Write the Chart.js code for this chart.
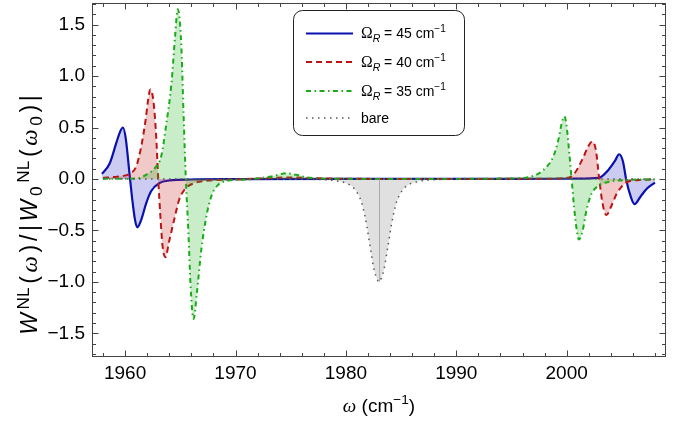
<!DOCTYPE html>
<html>
<head>
<meta charset="utf-8">
<script src="https://cdn.jsdelivr.net/npm/chart.js@4"></script>
<style>
  html, body { margin: 0; padding: 0; background: #fff; }
  canvas { display: block; }
</style>
</head>
<body>
<canvas id="chart" width="682" height="425"></canvas>
<script>
// tick labels
const xTicks = [1960, 1970, 1980, 1990, 2000];
const yTicks = [-1.5, -1.0, -0.5, 0, 0.5, 1.0, 1.5];

// Omega_R values for the legend
const omegaR = [45, 40, 35];

// Omega_R = 45
const blueX = [1957.9, 1958.6, 1959.2, 1959.55, 1959.8, 1960.05, 1960.4, 1960.65, 1960.9, 1961.1, 1961.45, 1961.9, 1962.35, 1963.1, 1964, 1966, 1970, 1980, 1995, 2001, 2002.9, 2003.8, 2004.4, 2004.75, 2005.1, 2005.4, 2005.8, 2006.15, 2006.7, 2007.3, 2008];
const blueY = [0.05, 0.15, 0.35, 0.46, 0.50, 0.40, 0.05, -0.20, -0.40, -0.47, -0.40, -0.24, -0.12, -0.04, -0.015, -0.005, -0.002, 0, 0.001, 0.003, 0.01, 0.09, 0.18, 0.24, 0.17, -0.01, -0.17, -0.245, -0.17, -0.09, -0.035];

// Omega_R = 40
const redX = [1958, 1959, 1959.8, 1960.4, 1961.0, 1961.45, 1961.85, 1962.1, 1962.27, 1962.55, 1962.8, 1963.0, 1963.2, 1963.4, 1963.65, 1964.0, 1964.5, 1964.9, 1965.5, 1966.4, 1967.6, 1970, 1973, 1975, 1977, 1980, 1990, 1997, 1999.7, 2000.6, 2001.4, 2001.95, 2002.3, 2002.65, 2002.95, 2003.25, 2003.6, 2004.1, 2004.55, 2005.4, 2006.6, 2008];
const redY = [0.01, 0.02, 0.03, 0.05, 0.12, 0.31, 0.57, 0.78, 0.87, 0.77, 0.44, 0, -0.37, -0.66, -0.76, -0.60, -0.37, -0.20, -0.09, -0.036, -0.016, -0.005, 0.008, 0.015, 0.008, 0.002, 0, 0.002, 0.007, 0.04, 0.185, 0.315, 0.364, 0.28, 0, -0.237, -0.35, -0.25, -0.14, -0.036, -0.01, -0.005];

// Omega_R = 35
const greenX = [1958, 1960, 1961, 1961.9, 1962.8, 1963.27, 1963.7, 1964.2, 1964.53, 1964.77, 1965.08, 1965.3, 1965.5, 1965.74, 1965.92, 1966.2, 1966.5, 1966.9, 1967.35, 1967.8, 1968.4, 1969.15, 1971, 1972.5, 1973.5, 1974.6, 1975.5, 1976.5, 1978, 1985, 1995, 1997, 1997.9, 1998.8, 1999.25, 1999.55, 1999.8, 2000.0, 2000.24, 2000.45, 2000.67, 2000.92, 2001.1, 2001.45, 2001.8, 2002.27, 2003.0, 2003.9, 2005.4, 2008];
const greenY = [0.002, 0.003, 0.005, 0.04, 0.12, 0.22, 0.51, 0.93, 1.39, 1.65, 1.32, 0.61, 0, -0.53, -1.02, -1.36, -1.11, -0.69, -0.37, -0.17, -0.06, -0.02, -0.005, 0.012, 0.03, 0.055, 0.04, 0.015, 0.003, 0, 0.005, 0.03, 0.088, 0.22, 0.38, 0.54, 0.607, 0.51, 0.25, 0, -0.27, -0.50, -0.588, -0.50, -0.30, -0.14, -0.06, -0.026, -0.01, -0.003];

// bare
const bareX = [1958, 1970, 1976, 1978, 1979, 1979.9, 1980.35, 1980.86, 1981.4, 1981.7, 1981.9, 1982.1, 1982.3, 1982.5, 1982.75, 1983, 1983.25, 1983.5, 1983.7, 1983.9, 1984.1, 1984.3, 1984.6, 1985.14, 1985.65, 1986.1, 1987, 1988, 1990, 1996, 2008];
const bareY = [0, -0.001, -0.003, -0.007, -0.016, -0.036, -0.058, -0.107, -0.22, -0.35, -0.46, -0.595, -0.724, -0.855, -0.952, -1.0, -0.952, -0.855, -0.724, -0.595, -0.46, -0.35, -0.22, -0.107, -0.058, -0.036, -0.016, -0.007, -0.003, -0.001, 0];

const pts = (xs, ys) => xs.map((x, i) => ({ x, y: ys[i] }));

const SANS = '"Liberation Sans", Arial, sans-serif';
const SERIF = '"Liberation Serif", "Times New Roman", serif';

// rich text: parts {t, it, serif, s (scale), dy (em shift)}
function partFont(p, size) {
  return (p.it ? 'italic ' : '') + (size * (p.s || 1)) + 'px ' + (p.serif ? SERIF : SANS);
}
function drawRich(ctx, parts, x, y, size, align, gap) {
  gap = gap || 0;
  let w = 0;
  parts.forEach((p, i) => {
    ctx.font = partFont(p, size);
    p.w = ctx.measureText(p.t).width + (i < parts.length - 1 ? gap * size : 0);
    w += p.w;
  });
  let cx = align === 'center' ? x - w / 2 : x;
  ctx.textAlign = 'left';
  ctx.textBaseline = 'alphabetic';
  parts.forEach(p => {
    ctx.font = partFont(p, size);
    ctx.fillText(p.t, cx, y + (p.dy || 0) * size);
    cx += p.w;
  });
}
const sup = t => ({ t, s: 0.72, dy: -0.42 });

const legendRows = [
  { val: omegaR[0], ds: 0 },
  { val: omegaR[1], ds: 1 },
  { val: omegaR[2], ds: 2 },
  { label: 'bare', ds: 3 }
];

const framePlugin = {
  id: 'frame',
  afterDatasetsDraw(chart) {
    const { ctx, chartArea: a, scales: { x, y } } = chart;
    ctx.save();
    // seam line of the bare fill at its minimum
    const iMin = bareY.indexOf(Math.min(...bareY));
    const sx = Math.round(x.getPixelForValue(bareX[iMin])) + 0.5;
    ctx.strokeStyle = 'rgba(150,150,150,0.7)';
    ctx.lineWidth = 1;
    ctx.beginPath();
    ctx.moveTo(sx, y.getPixelForValue(0));
    ctx.lineTo(sx, y.getPixelForValue(bareY[iMin]));
    ctx.stroke();

    const L = Math.round(a.left) + 0.5, R = Math.round(a.right) - 0.5;
    const T = Math.round(a.top) + 0.5, B = Math.round(a.bottom) - 0.5;
    ctx.strokeStyle = '#444';
    ctx.strokeRect(L, T, R - L, B - T);
    ctx.beginPath();
    for (let v = 1958; v <= 2008; v += 2) {
      const px = Math.round(x.getPixelForValue(v)) + 0.5;
      const len = v % 10 === 0 ? 6 : 3.5;
      ctx.moveTo(px, B); ctx.lineTo(px, B - len);
      ctx.moveTo(px, T); ctx.lineTo(px, T + len);
    }
    for (let k = -17; k <= 17; k++) {
      const py = Math.round(y.getPixelForValue(k / 10)) + 0.5;
      const len = k % 5 === 0 ? 6 : 3.5;
      ctx.moveTo(L, py); ctx.lineTo(L + len, py);
      ctx.moveTo(R, py); ctx.lineTo(R - len, py);
    }
    ctx.stroke();
    ctx.restore();
  },
  afterDraw(chart) {
    const { ctx, chartArea: a } = chart;
    ctx.save();
    ctx.fillStyle = '#000';
    // x title
    drawRich(ctx, [
      { t: 'ω', it: true, serif: true },
      { t: ' (cm' }, sup('−1'), { t: ')' }
    ], (a.left + a.right) / 2, 412, 19, 'center');
    // y title
    ctx.save();
    ctx.translate(37, 215);
    ctx.rotate(-Math.PI / 2);
    drawRich(ctx, [
      { t: 'W', it: true }, { t: 'NL', s: 0.75, dy: -0.36 }, { t: '(' }, { t: 'ω', it: true, serif: true }, { t: ')' }, { t: '/' }, { t: '|' },
      { t: 'W', it: true }, { t: '0', s: 0.75, dy: 0.22 }, { t: 'NL', s: 0.75, dy: -0.36 }, { t: '(' }, { t: 'ω', it: true, serif: true },
      { t: '0', s: 0.75, dy: 0.22 }, { t: ')' }, { t: '|' }
    ], 0, 0, 23, 'center', 0.16);
    ctx.restore();

    // legend box
    const bx = 293.5, by = 10.5, bw = 171, bh = 125, r = 9;
    ctx.beginPath();
    ctx.roundRect(bx, by, bw, bh, r);
    ctx.fillStyle = '#fff';
    ctx.fill();
    ctx.strokeStyle = '#222';
    ctx.lineWidth = 1;
    ctx.stroke();
    const rowY = [33.5, 62, 91, 118];
    legendRows.forEach((row, i) => {
      const ds = chart.data.datasets[row.ds];
      const yy = rowY[i];
      ctx.save();
      ctx.strokeStyle = ds.borderColor;
      ctx.lineWidth = ds.borderWidth;
      ctx.setLineDash(ds.borderDash || []);
      ctx.beginPath();
      ctx.moveTo(306, yy); ctx.lineTo(353, yy);
      ctx.stroke();
      ctx.restore();
      ctx.fillStyle = '#000';
      if (row.val !== undefined) {
        drawRich(ctx, [
          { t: 'Ω', serif: true, s: 1.12 }, { t: 'R', it: true, s: 0.75, dy: 0.3 },
          { t: ' = ' + row.val + ' cm' }, sup('−1')
        ], 361, yy + 4.5, 14, 'left');
      } else {
        drawRich(ctx, [{ t: row.label }], 361, yy + 4.5, 14, 'left');
      }
    });
    ctx.restore();
  }
};

new Chart(document.getElementById('chart'), {
  type: 'line',
  data: {
    datasets: [
      {
        label: 'ΩR = 45 cm−1', data: pts(blueX, blueY), order: 4,
        borderColor: '#0a10b0', borderWidth: 2.2,
        backgroundColor: 'rgba(40,40,200,0.24)', fill: 'origin'
      },
      {
        label: 'ΩR = 40 cm−1', data: pts(redX, redY), order: 3,
        borderColor: '#bb1414', borderWidth: 2, borderDash: [6, 4],
        backgroundColor: 'rgba(200,30,30,0.24)', fill: 'origin'
      },
      {
        label: 'ΩR = 35 cm−1', data: pts(greenX, greenY), order: 2,
        borderColor: '#1aaa1a', borderWidth: 2, borderDash: [5, 3.5, 1.5, 3.5],
        backgroundColor: 'rgba(30,180,30,0.24)', fill: 'origin'
      },
      {
        label: 'bare', data: pts(bareX, bareY), order: 1,
        borderColor: '#555', borderWidth: 1.5, borderDash: [1.5, 4.5],
        backgroundColor: 'rgba(100,100,100,0.2)', fill: 'origin'
      }
    ]
  },
  options: {
    responsive: false,
    animation: false,
    elements: {
      point: { radius: 0 },
      line: { cubicInterpolationMode: 'monotone', borderCapStyle: 'butt' }
    },
    layout: { padding: { top: 3, right: 16, left: 0, bottom: 0 } },
    plugins: { legend: { display: false }, tooltip: { enabled: false }, title: { display: false } },
    scales: {
      x: {
        type: 'linear', min: 1957, max: 2009,
        afterFit: s => { s.height = 68; s.paddingLeft = 0; s.paddingRight = 0; },
        afterBuildTicks: s => { s.ticks = xTicks.map(v => ({ value: v })); },
        grid: { display: false, drawTicks: false },
        border: { display: false },
        ticks: {
          padding: 5, color: '#000', autoSkip: false, maxRotation: 0,
          font: { family: 'Liberation Sans', size: 19 },
          callback: v => String(v)
        }
      },
      y: {
        type: 'linear', min: -1.73, max: 1.71,
        afterFit: s => { s.width = 92; s.paddingTop = 0; s.paddingBottom = 0; },
        afterBuildTicks: s => { s.ticks = yTicks.map(v => ({ value: v })); },
        grid: { display: false, drawTicks: false },
        border: { display: false },
        ticks: {
          padding: 7, color: '#000',
          font: { family: 'Liberation Sans', size: 19 },
          callback: v => (v < 0 ? '\u2212' : '') + Math.abs(v).toFixed(1)
        }
      }
    }
  },
  plugins: [framePlugin]
});
</script>
</body>
</html>
